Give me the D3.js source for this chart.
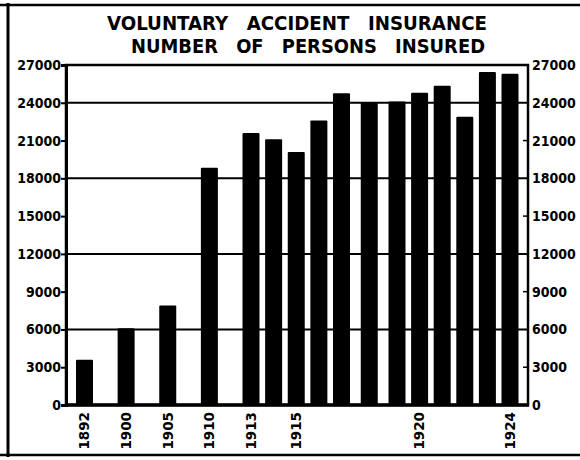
<!DOCTYPE html>
<html lang='en'>
<head>
<meta charset='utf-8'>
<script src='https://cdnjs.cloudflare.com/ajax/libs/d3/7.8.5/d3.min.js'></script>
<title>Voluntary Accident Insurance</title>
<style>
body {
   margin:0;
   overflow:hidden;
   background:white;
}
.ttl {
   font-family:'DejaVu Sans Condensed', 'DejaVu Sans';
   font-stretch:condensed;
   font-weight:bold;
   font-size:20px;
   word-spacing:12px;
   fill:black;
}
.lbl {
   font-family:'DejaVu Sans Condensed', 'DejaVu Sans';
   font-stretch:condensed;
   font-weight:bold;
   font-size:14px;
   fill:black;
}
.yr {
   font-family:'DejaVu Sans';
   font-weight:bold;
   font-size:13.5px;
   fill:black;
}
</style>
</head>
<body>
<script>
// persons insured
var years = ['1892', '1900', '1905', '1910', '1913', '1914', '1915', '1916',
             '1917', '1918', '1919', '1920', '1921', '1922', '1923', '1924'];
var persons = [3600, 6100, 7900, 18850, 21600, 21100, 20100, 22600,
               24750, 24000, 24100, 24800, 25350, 22900, 26450, 26300];
var yearLabels = ['1892', '1900', '1905', '1910', '1913', '1915', '1920', '1924'];
var yTicks = [0, 3000, 6000, 9000, 12000, 15000, 18000, 21000, 24000, 27000];
var gridValues = [6000, 12000, 18000, 24000];
var innerTicks = [3000, 9000, 15000, 21000];
var titleLines = ['VOLUNTARY ACCIDENT INSURANCE', 'NUMBER OF PERSONS INSURED'];

var W = 580, H = 460;
var plotL = 66, plotR = 528, plotT = 65, plotB = 405;
// title lines: left edge, width, baseline
var titleBox = [[107, 380, 30], [131, 354, 53]];

var svg = d3.select('body').append('svg')
            .attr('width', W).attr('height', H);

// bars are hand spaced on the original: early years sit wider apart
var x = d3.scaleLinear()
          .domain([0, 4, 8, 10, 15])
          .range([84.5, 251, 341.5, 397, 510]);
var y = d3.scaleLinear().domain([0, 27000]).range([plotB, plotT]);
var barW = 17;

// outer frame
svg.append('line').attr('x1', 8).attr('x2', 8).attr('y1', 3).attr('y2', 457)
   .style('stroke', 'black').style('stroke-width', 3);
svg.append('line').attr('x1', 0).attr('x2', W).attr('y1', 5).attr('y2', 5)
   .style('stroke', 'black').style('stroke-width', 2.5);
svg.append('line').attr('x1', 0).attr('x2', W).attr('y1', 455).attr('y2', 455)
   .style('stroke', 'black').style('stroke-width', 2.5);

// title
svg.selectAll('.ttl')
   .data(titleLines)
   .enter()
   .append('text')
   .attr('class', 'ttl')
   .attr('x', function(d, i){return titleBox[i][0];})
   .attr('y', function(d, i){return titleBox[i][2];})
   .attr('textLength', function(d, i){return titleBox[i][1];})
   .attr('lengthAdjust', 'spacingAndGlyphs')
   .text(function(d){return d;});

// gridlines
svg.append('g').selectAll('line')
   .data(gridValues)
   .enter()
   .append('line')
   .attr('x1', plotL).attr('x2', plotR)
   .attr('y1', function(d){return y(d);}).attr('y2', function(d){return y(d);})
   .style('stroke', 'black').style('stroke-width', 2);

// small ticks inside the right edge
svg.append('g').selectAll('line')
   .data(innerTicks)
   .enter()
   .append('line')
   .attr('x1', plotR - 5).attr('x2', plotR)
   .attr('y1', function(d){return y(d);}).attr('y2', function(d){return y(d);})
   .style('stroke', 'black').style('stroke-width', 1.5);

// bars
svg.append('g').selectAll('rect')
   .data(persons)
   .enter()
   .append('rect')
   .attr('x', function(d, i){return x(i) - barW / 2;})
   .attr('y', function(d){return y(d);})
   .attr('width', barW)
   .attr('height', function(d){return y(0) - y(d);})
   .attr('rx', 1)
   .style('fill', 'black');

// plot border
svg.append('rect')
   .attr('x', plotL).attr('y', plotT)
   .attr('width', plotR - plotL).attr('height', plotB - plotT)
   .style('fill', 'none').style('stroke', 'black').style('stroke-width', 2.5);
svg.append('line').attr('x1', plotL - 1).attr('x2', plotR + 1).attr('y1', plotB).attr('y2', plotB)
   .style('stroke', 'black').style('stroke-width', 3.5);

// left axis
var yAxisL = svg.append('g')
   .attr('transform', 'translate(' + plotL + ',0)')
   .call(d3.axisLeft(y).tickValues(yTicks).tickSize(5).tickPadding(0).tickFormat(d3.format('d')));
yAxisL.select('.domain').style('stroke', 'black').style('stroke-width', 3);
yAxisL.selectAll('.tick line').style('stroke', 'black').style('stroke-width', 2);
yAxisL.selectAll('.tick text').attr('class', 'lbl');

// right axis labels
var yAxisR = svg.append('g')
   .attr('transform', 'translate(' + plotR + ',0)')
   .call(d3.axisRight(y).tickValues(yTicks).tickSize(0).tickPadding(4).tickFormat(d3.format('d')));
yAxisR.select('.domain').remove();
yAxisR.selectAll('.tick text').attr('class', 'lbl');

// year labels, rotated
svg.append('g').selectAll('text')
   .data(yearLabels)
   .enter()
   .append('text')
   .attr('class', 'yr')
   .attr('transform', function(d){return 'translate(' + x(years.indexOf(d)) + ',' + (plotB + 7) + ') rotate(-90)';})
   .attr('dy', '0.36em')
   .attr('text-anchor', 'end')
   .text(function(d){return d;});
</script>
</body>
</html>
